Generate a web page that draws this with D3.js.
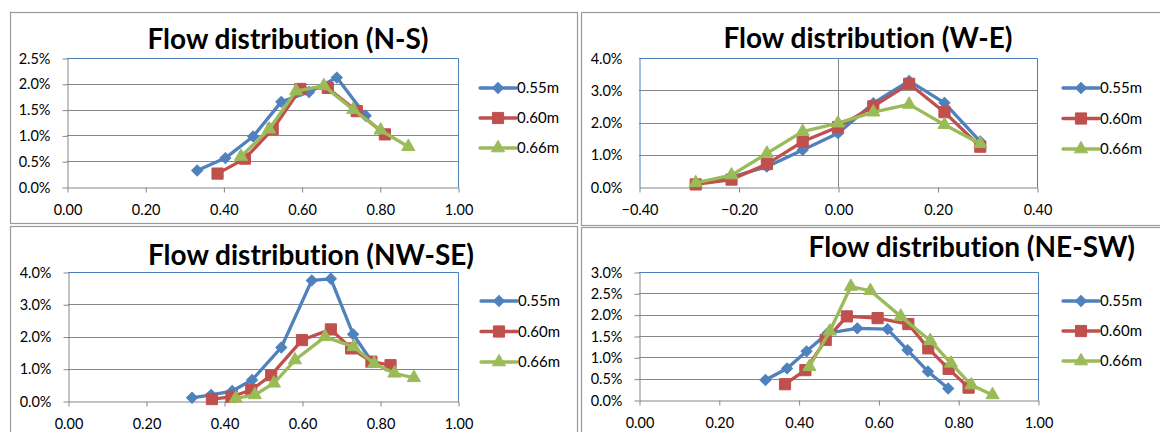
<!DOCTYPE html>
<html>
<head>
<meta charset="utf-8">
<script src="https://cdnjs.cloudflare.com/ajax/libs/d3/7.8.5/d3.min.js"></script>
<style>
body { margin: 0; background: #fff; }
svg { display: block; font-family: Lato, "Open Sans", sans-serif; font-variant-ligatures: none; }
</style>
</head>
<body>
<div id="main"></div>
<script>
var seriesNames = ["0.55m", "0.60m", "0.66m"];
var seriesColors = ["#4F81BD", "#C0504D", "#9BBB59"];

// N-S
var nsX = [
  [0.333, 0.405, 0.476, 0.548, 0.619, 0.690, 0.764],
  [0.385, 0.455, 0.526, 0.597, 0.667, 0.741, 0.813],
  [0.445, 0.517, 0.586, 0.657, 0.732, 0.802, 0.873]
];
var nsY = [
  [0.0032, 0.0056, 0.0098, 0.0165, 0.0184, 0.0212, 0.0138],
  [0.0026, 0.0055, 0.0112, 0.0190, 0.0192, 0.0147, 0.0102],
  [0.0059, 0.0112, 0.0186, 0.0196, 0.0150, 0.0110, 0.0078]
];
var nsYTicks = [0, 0.005, 0.01, 0.015, 0.02, 0.025];
var nsXTicks = [0, 0.2, 0.4, 0.6, 0.8, 1.0];

// W-E
var weX = [
  [-0.286, -0.214, -0.143, -0.071, 0, 0.071, 0.143, 0.214, 0.286],
  [-0.286, -0.214, -0.143, -0.071, 0, 0.071, 0.143, 0.214, 0.286],
  [-0.286, -0.214, -0.143, -0.071, 0, 0.071, 0.143, 0.214, 0.286]
];
var weY = [
  [0.0010, 0.0031, 0.0063, 0.0115, 0.0167, 0.0260, 0.0329, 0.0261, 0.0141],
  [0.0008, 0.0023, 0.0071, 0.0141, 0.0186, 0.0250, 0.0320, 0.0232, 0.0125],
  [0.0013, 0.0037, 0.0104, 0.0172, 0.0198, 0.0232, 0.0256, 0.0193, 0.0134]
];
var weYTicks = [0, 0.01, 0.02, 0.03, 0.04];
var weXTicks = [-0.4, -0.2, 0, 0.2, 0.4];

// NW-SE
var nwX = [
  [0.318, 0.367, 0.421, 0.472, 0.547, 0.625, 0.674, 0.731, 0.780],
  [0.369, 0.419, 0.470, 0.521, 0.600, 0.674, 0.726, 0.778, 0.827],
  [0.430, 0.479, 0.528, 0.582, 0.659, 0.732, 0.785, 0.837, 0.887]
];
var nwY = [
  [0.0010, 0.0019, 0.0031, 0.0065, 0.0166, 0.0374, 0.0379, 0.0207, 0.0120],
  [0.0006, 0.0013, 0.0034, 0.0080, 0.0189, 0.0222, 0.0163, 0.0122, 0.0111],
  [0.0008, 0.0019, 0.0055, 0.0127, 0.0199, 0.0168, 0.0116, 0.0086, 0.0072]
];
var nwYTicks = [0, 0.01, 0.02, 0.03, 0.04];
var nwXTicks = [0, 0.2, 0.4, 0.6, 0.8, 1.0];

// NE-SW
var neX = [
  [0.317, 0.371, 0.420, 0.473, 0.547, 0.623, 0.673, 0.724, 0.775],
  [0.366, 0.417, 0.468, 0.521, 0.598, 0.675, 0.725, 0.776, 0.826],
  [0.427, 0.478, 0.531, 0.580, 0.656, 0.730, 0.782, 0.833, 0.886]
];
var neY = [
  [0.0047, 0.0074, 0.0114, 0.0157, 0.0168, 0.0166, 0.0117, 0.0067, 0.0027],
  [0.0037, 0.0070, 0.0141, 0.0196, 0.0192, 0.0178, 0.0121, 0.0073, 0.0029],
  [0.0078, 0.0161, 0.0266, 0.0256, 0.0196, 0.0139, 0.0086, 0.0035, 0.0012]
];
var neYTicks = [0, 0.005, 0.01, 0.015, 0.02, 0.025, 0.03];
var neXTicks = [0, 0.2, 0.4, 0.6, 0.8, 1.0];

var titles = ["Flow distribution (N-S)", "Flow distribution (W-E)",
              "Flow distribution (NW-SE)", "Flow distribution (NE-SW)"];

var W = 1160, H = 432;
var svg = d3.select('#main').append('svg')
            .attr('width', W)
            .attr('height', H);

var gridColor = "#868686";
var frameColor = "#4A7EBB";
var symbols = [d3.symbolSquare, d3.symbolSquare, d3.symbolTriangle];
var symbolSizes = [60, 125, 75];
var symbolRot = [45, 0, 0];

function marker(g, i, cx, cy) {
  g.append('path')
   .attr('d', d3.symbol().type(symbols[i]).size(symbolSizes[i])())
   .attr('transform', 'translate(' + cx + ',' + cy + ') rotate(' + symbolRot[i] + ')')
   .attr('fill', seriesColors[i])
   .attr('stroke', seriesColors[i])
   .attr('stroke-width', 1);
}

function drawPanel(p) {
  var g = svg.append('g');

  // chart frame
  g.append('rect')
   .attr('x', p.box[0] + 0.5)
   .attr('y', p.box[1] + 0.5)
   .attr('width', p.box[2])
   .attr('height', p.box[3])
   .attr('fill', '#fff')
   .attr('stroke', '#9a9a9a')
   .attr('stroke-width', 1.2);

  var x = d3.scaleLinear().domain(p.xDomain).range([p.l, p.r]);
  var y = d3.scaleLinear().domain([0, p.yTicks[p.yTicks.length - 1]]).range([p.b, p.t]);

  // gridlines
  g.selectAll('.grid')
   .data(p.yTicks.slice(1))
   .enter().append('line')
   .attr('x1', p.l).attr('x2', p.r)
   .attr('y1', function(d) { return Math.round(y(d)) + 0.5; })
   .attr('y2', function(d) { return Math.round(y(d)) + 0.5; })
   .attr('stroke', gridColor)
   .attr('stroke-width', 1);

  // plot area border (top/right)
  g.append('path')
   .attr('d', 'M' + (p.l + 0.5) + ',' + (p.t + 0.5) + 'H' + (p.r + 0.5) + 'V' + (p.b + 0.5))
   .attr('fill', 'none')
   .attr('stroke', frameColor)
   .attr('stroke-width', 1);

  // axes
  var yAxis = d3.axisLeft(y)
                .tickValues(p.yTicks)
                .tickFormat(d3.format('.1%'))
                .tickSizeOuter(0)
                .tickSizeInner(p.zeroAxis ? 0 : 5)
                .tickPadding(p.zeroAxis ? 17 : 12);
  var ya = g.append('g')
            .attr('transform', 'translate(' + (p.l + 0.5) + ',0.5)')
            .call(yAxis);

  if (p.zeroAxis) {
    ya.select('.domain').attr('stroke', frameColor);
    g.append('line')
     .attr('x1', Math.round(x(0)) + 0.5).attr('x2', Math.round(x(0)) + 0.5)
     .attr('y1', p.t).attr('y2', p.b)
     .attr('stroke', gridColor)
     .attr('stroke-width', 1);
  } else {
    ya.select('.domain').attr('stroke', gridColor);
  }

  var xAxis = d3.axisBottom(x)
                .tickValues(p.xTicks)
                .tickFormat(d3.format('.2f'))
                .tickSizeOuter(0)
                .tickSizeInner(5)
                .tickPadding(12);
  var xa = g.append('g')
            .attr('transform', 'translate(0.5,' + (p.b + 0.5) + ')')
            .call(xAxis);
  xa.select('.domain').attr('stroke', gridColor);

  [ya, xa].forEach(function(a) {
    a.attr('font-family', 'Lato, sans-serif')
     .attr('font-size', 14.5);
    a.selectAll('.tick line').attr('stroke', gridColor);
    a.selectAll('.tick text').attr('fill', '#000');
  });

  // series
  var line = d3.line()
               .x(function(d) { return x(d[0]); })
               .y(function(d) { return y(d[1]); });

  p.xs.forEach(function(xs, i) {
    var pts = xs.map(function(v, k) { return [v, p.ys[i][k]]; });
    g.append('path')
     .datum(pts)
     .attr('d', line)
     .attr('fill', 'none')
     .attr('stroke', seriesColors[i])
     .attr('stroke-width', 3.3)
     .attr('stroke-linejoin', 'round');
    pts.forEach(function(d) {
      marker(g, i, x(d[0]), y(d[1]));
    });
  });

  // legend
  seriesNames.forEach(function(name, i) {
    var ly = p.legY + i * p.legDy;
    g.append('line')
     .attr('x1', p.legX).attr('x2', p.legX + 36)
     .attr('y1', ly).attr('y2', ly)
     .attr('stroke', seriesColors[i])
     .attr('stroke-width', 3.3)
     .attr('stroke-linecap', 'round');
    marker(g, i, p.legX + 18, ly);
    g.append('text')
     .attr('x', p.legX + 37)
     .attr('y', ly)
     .attr('dy', '0.35em')
     .attr('font-size', 15)
     .text(name);
  });

  // title
  g.append('text')
   .attr('x', p.titleX)
   .attr('y', p.titleY)
   .attr('text-anchor', p.titleAnchor)
   .attr('font-size', 28)
   .attr('font-weight', 'bold')
   .text(p.title);
}

drawPanel({
  box: [10, 12, 567, 211], l: 67, r: 458, t: 58, b: 187,
  xDomain: [0, 1], xTicks: nsXTicks, yTicks: nsYTicks, xs: nsX, ys: nsY,
  legX: 480, legY: 88, legDy: 30,
  title: titles[0], titleX: 288, titleY: 49, titleAnchor: 'middle'
});

drawPanel({
  box: [581, 12, 600, 213], l: 639, r: 1037, t: 58, b: 187,
  xDomain: [-0.4, 0.4], xTicks: weXTicks, yTicks: weYTicks, xs: weX, ys: weY,
  zeroAxis: true,
  legX: 1063, legY: 88, legDy: 30.5,
  title: titles[1], titleX: 868, titleY: 48, titleAnchor: 'middle'
});

drawPanel({
  box: [10, 226, 567, 220], l: 68, r: 458, t: 272, b: 401,
  xDomain: [0, 1], xTicks: nwXTicks, yTicks: nwYTicks, xs: nwX, ys: nwY,
  legX: 481, legY: 301, legDy: 30.5,
  title: titles[2], titleX: 311, titleY: 265, titleAnchor: 'middle'
});

drawPanel({
  box: [581, 227, 600, 220], l: 639, r: 1038, t: 272, b: 400,
  xDomain: [0, 1], xTicks: neXTicks, yTicks: neYTicks, xs: neX, ys: neY,
  legX: 1063, legY: 301, legDy: 30,
  title: titles[3], titleX: 1135, titleY: 257, titleAnchor: 'end'
});
</script>
</body>
</html>
